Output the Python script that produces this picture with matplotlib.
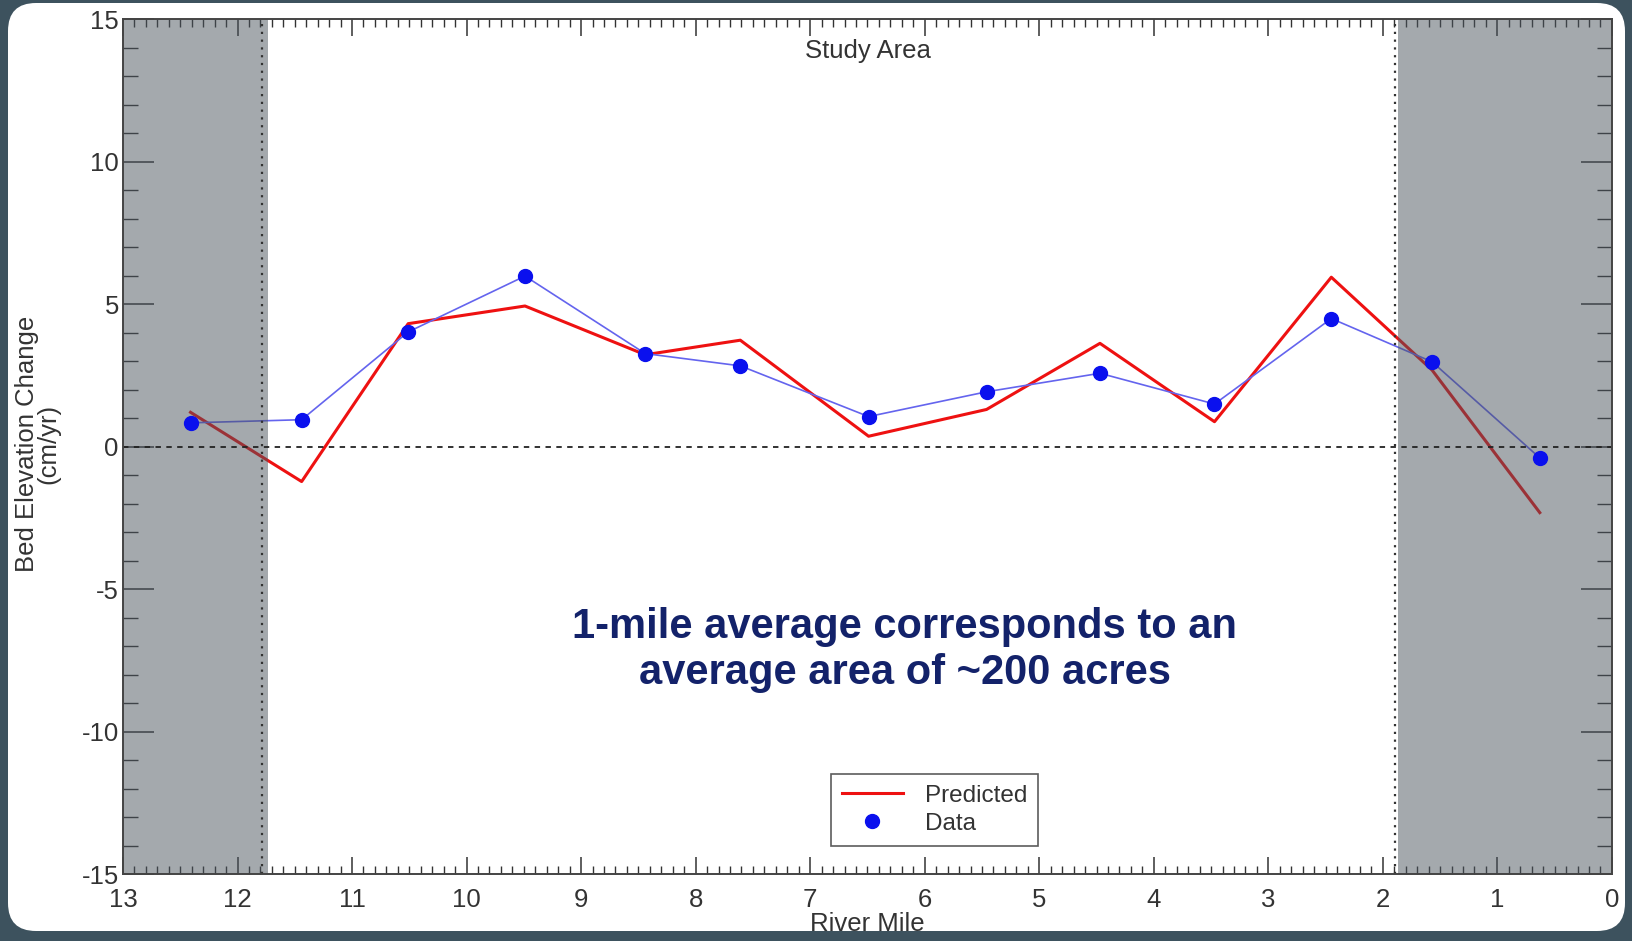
import matplotlib
matplotlib.use('Agg')
import matplotlib.pyplot as plt
from matplotlib.patches import FancyBboxPatch
from matplotlib.ticker import MultipleLocator

plt.rcParams['font.family'] = ['Liberation Sans', 'DejaVu Sans']
plt.rcParams['axes.unicode_minus'] = False

# ---------------- dados ----------------
milha = [12.41, 11.44, 10.51, 9.49, 8.44, 7.61, 6.49, 5.46, 4.47, 3.47, 2.45, 1.57, 0.63]
medido = [0.83, 0.94, 4.02, 5.98, 3.26, 2.83, 1.05, 1.92, 2.57, 1.49, 4.49, 2.97, -0.40]
previsto = [1.20, -1.23, 4.31, 4.93, 3.22, 3.73, 0.36, 1.30, 3.62, 0.87, 5.94, 2.68, -2.32]

faixa_esq = (13.0, 11.73)
faixa_dir = (1.87, 0.0)
limite_estudo = [11.79, 1.89]

fig = plt.figure(figsize=(16.33, 9.41), dpi=100)
fig.patch.set_facecolor('#3d525e')
cartao = FancyBboxPatch((8, 10), 1617, 928, boxstyle='round,pad=0,rounding_size=28',
                        transform=None, facecolor='white', edgecolor='none', zorder=-10)
fig.patches.append(cartao)

ax = fig.add_axes([0.0753, 0.0712, 0.9118, 0.9086])
ax.set_facecolor('none')

ax.plot(milha, previsto, color='#ee1111', lw=2.2, zorder=2, label='Predicted')
ax.plot(milha, medido, color='#6464ee', lw=1.2, zorder=2)
ax.plot(milha, medido, 'o', color='#0a10ee', ms=10, zorder=5, label='Data')

# regioes fora da area de estudo (cinza por cima das linhas)
ax.axvspan(*faixa_esq, color='#4a545d', alpha=0.5, lw=0, zorder=3)
ax.axvspan(*faixa_dir, color='#4a545d', alpha=0.5, lw=0, zorder=3)
for xv in limite_estudo:
    ax.axvline(xv, color='#333333', lw=1.6, ls=(0, (1, 2.5)), zorder=4)
ax.axhline(0, color='#222222', lw=1.3, ls=(0, (3, 3)), zorder=4)

ax.set_xlim(13, 0)
ax.set_ylim(-15, 15)
ax.xaxis.set_major_locator(MultipleLocator(1))
ax.xaxis.set_minor_locator(MultipleLocator(0.1))
ax.yaxis.set_major_locator(MultipleLocator(5))
ax.yaxis.set_minor_locator(MultipleLocator(1))
ax.tick_params(axis='x', which='major', direction='in', length=12, width=1.1,
               top=True, bottom=True, pad=10, labelsize=18.5, labelcolor='#333333', color='#333333')
ax.tick_params(axis='x', which='minor', direction='in', length=6, width=1.0,
               top=True, bottom=True, color='#333333')
ax.tick_params(axis='y', which='major', direction='in', length=22, width=1.1,
               left=True, right=True, pad=3, labelsize=18.5, labelcolor='#333333', color='#333333')
ax.tick_params(axis='y', which='minor', direction='in', length=11, width=1.0,
               left=True, right=True, color='#333333')
for s in ax.spines.values():
    s.set_color('#444444')
    s.set_linewidth(1.4)
    s.set_zorder(6)

ax.set_xlabel('River Mile', fontsize=18.5, color='#333333', labelpad=0)
fig.text(38 / 1633, 1 - 444 / 941, 'Bed Elevation Change\n(cm/yr)', rotation=90,
         ha='center', va='center', fontsize=18.5, color='#333333', linespacing=0.85)

ax.text(0.5, 0.963, 'Study Area', transform=ax.transAxes, ha='center', va='center',
        fontsize=18.5, color='#333333')
ax.text(0.525, 0.262, '1-mile average corresponds to an\naverage area of ~200 acres',
        transform=ax.transAxes, ha='center', va='center', fontsize=30,
        fontweight='bold', color='#13226a', linespacing=1.22)

leg = ax.legend(loc='lower center', bbox_to_anchor=(0.545, 0.033), borderaxespad=0,
                fontsize=17.5, frameon=True, fancybox=False, handlelength=2.5,
                handletextpad=0.9, borderpad=0.45, labelspacing=0.25)
leg.get_frame().set_edgecolor('#333333')
leg.get_frame().set_linewidth(1.2)
leg.set_zorder(7)
for t in leg.get_texts():
    t.set_color('#333333')

fig.savefig('out.png', dpi=100, facecolor=fig.get_facecolor())
